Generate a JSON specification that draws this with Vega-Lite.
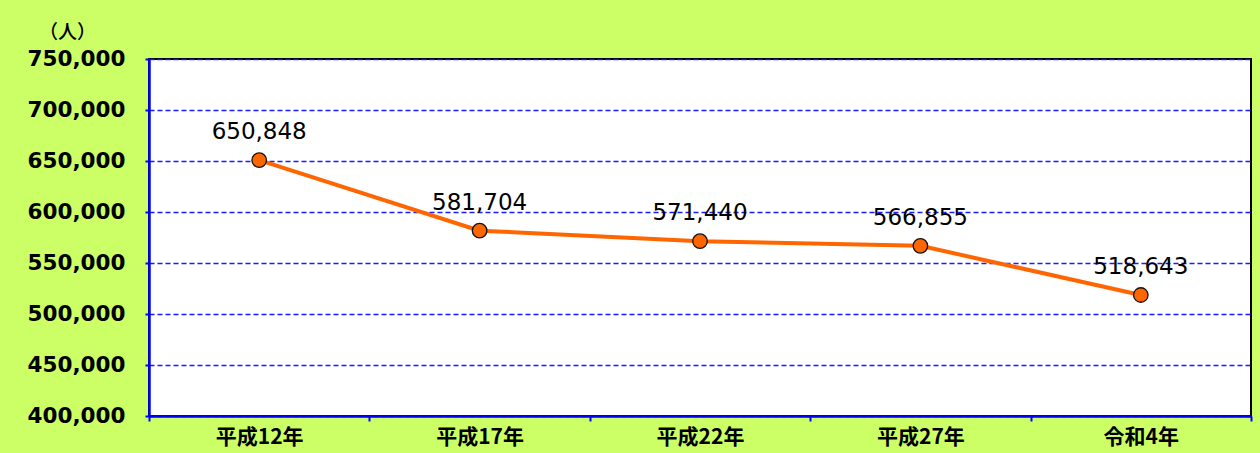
{
  "$schema": "https://vega.github.io/schema/vega-lite/v6.json",
  "autosize": "none",
  "width": 1102,
  "height": 357,
  "padding": {"left": 149, "top": 59, "right": 9, "bottom": 37},
  "background": "#CCFF66",
  "config": {"view": {"stroke": "black", "strokeWidth": 2, "fill": "white"}},
  "data": {"values": [
    {"year": "平成12年", "pop": 650848},
    {"year": "平成17年", "pop": 581704},
    {"year": "平成22年", "pop": 571440},
    {"year": "平成27年", "pop": 566855},
    {"year": "令和4年", "pop": 518643}
  ]},
  "encoding": {
    "x": {"field": "year", "type": "nominal", "sort": null,
      "scale": {"type": "band", "paddingInner": 0, "paddingOuter": 0},
      "axis": {"title": null, "labelAngle": 0, "tickBand": "extent", "domainColor": "#0000FF", "domainWidth": 2.5,
        "tickColor": "#0000FF", "tickWidth": 2, "tickSize": 5, "labelFont": "Noto Sans CJK JP", "labelFontWeight": "bold",
        "labelFontSize": 21, "labelColor": "black", "labelPadding": 5, "grid": false}},
    "y": {"field": "pop", "type": "quantitative",
      "scale": {"domain": [400000, 750000], "nice": false, "zero": false},
      "axis": {"title": "（人）", "titleAngle": 0, "titleX": -82, "titleY": -27, "titleAlign": "center", "titleBaseline": "middle",
        "titleFont": "Noto Sans CJK JP", "titleFontSize": 19, "titleFontWeight": 500, "titleColor": "black",
        "values": [400000, 450000, 500000, 550000, 600000, 650000, 700000, 750000], "format": ",d",
        "labelFont": "DejaVu Sans", "labelFontWeight": "bold", "labelFontSize": 21.5, "labelColor": "black", "labelPadding": 20,
        "tickColor": "#0000FF", "tickWidth": 2, "tickSize": 4, "domainColor": "#0000FF", "domainWidth": 2.5,
        "grid": true, "gridColor": "#1a1aff", "gridDash": [5, 3], "gridWidth": 1.5}}
  },
  "layer": [
    {"mark": {"type": "line", "color": "#FF6600", "strokeWidth": 4}},
    {"mark": {"type": "point", "filled": true, "fill": "#FF6600", "stroke": "#111111", "strokeWidth": 1.3, "size": 210, "opacity": 1}},
    {"mark": {"type": "text", "dy": -28, "font": "DejaVu Sans", "fontSize": 23, "color": "black"},
      "encoding": {"text": {"field": "pop", "type": "quantitative", "format": ",d"}}}
  ]
}
